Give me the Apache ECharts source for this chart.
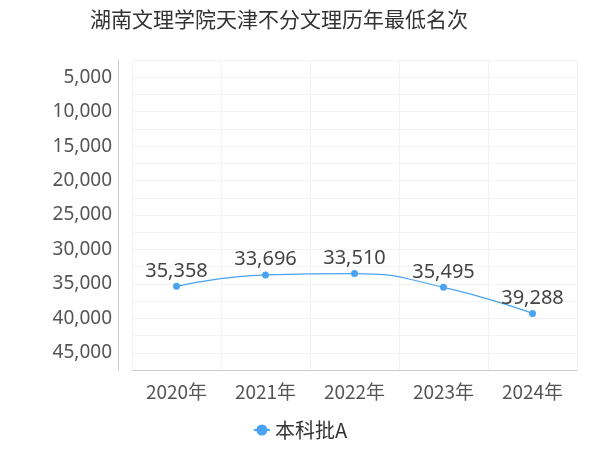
<!DOCTYPE html>
<html>
<head>
<meta charset="utf-8">
<script src="https://cdn.jsdelivr.net/npm/echarts@6/dist/echarts.min.js"></script>
<style>html,body{margin:0;padding:0;}#main{width:600px;height:450px;}</style>
</head>
<body>
<div id="main"></div>
<script>
var years = ['2020年', '2021年', '2022年', '2023年', '2024年'];
var ranks = [35358, 33696, 33510, 35495, 39288];

var myChart = echarts.init(document.getElementById('main'));
var option = {
    title: {
        text: '湖南文理学院天津不分文理历年最低名次',
        left: 85,
        top: 4,
        textStyle: {fontSize: 21, fontWeight: 'normal', color: '#333', fontFamily: 'Noto Sans CJK SC'}
    },
    legend: {
        data: ['本科批A'],
        bottom: 5,
        itemWidth: 16,
        textStyle: {fontSize: 20, color: '#333', fontFamily: 'Noto Sans CJK SC'}
    },
    grid: {left: 132, right: 23, top: 60, bottom: 80},
    xAxis: {
        type: 'category',
        data: years,
        axisLine: {lineStyle: {color: '#ccc'}},
        axisTick: {show: false},
        axisLabel: {fontSize: 19, color: '#555', margin: 12, fontFamily: 'Noto Sans CJK SC'},
        splitLine: {show: true, lineStyle: {color: '#f3f3f3'}}
    },
    yAxis: {
        type: 'value',
        inverse: true,
        min: 2500,
        max: 47500,
        interval: 2500,
        offset: 14,
        axisLine: {show: true, lineStyle: {color: '#ccc'}},
        axisTick: {show: false},
        axisLabel: {
            fontSize: 19, color: '#555', fontFamily: 'Noto Sans', margin: 6,
            formatter: function (v) { return v % 5000 === 0 ? v.toLocaleString('en-US') : ''; }
        },
        splitLine: {lineStyle: {color: '#f3f3f3'}}
    },
    series: [{
        name: '本科批A',
        type: 'line',
        smooth: true,
        data: ranks,
        symbol: 'circle',
        symbolSize: 7,
        itemStyle: {color: '#4aa3f0'},
        lineStyle: {width: 1.2, color: '#4aa3f0'},
        label: {
            show: true, position: 'top', distance: 2, fontSize: 20, color: '#444', fontFamily: 'Noto Sans',
            formatter: function (p) { return p.value.toLocaleString('en-US'); }
        }
    }]
};
myChart.setOption(option);
</script>
</body>
</html>
